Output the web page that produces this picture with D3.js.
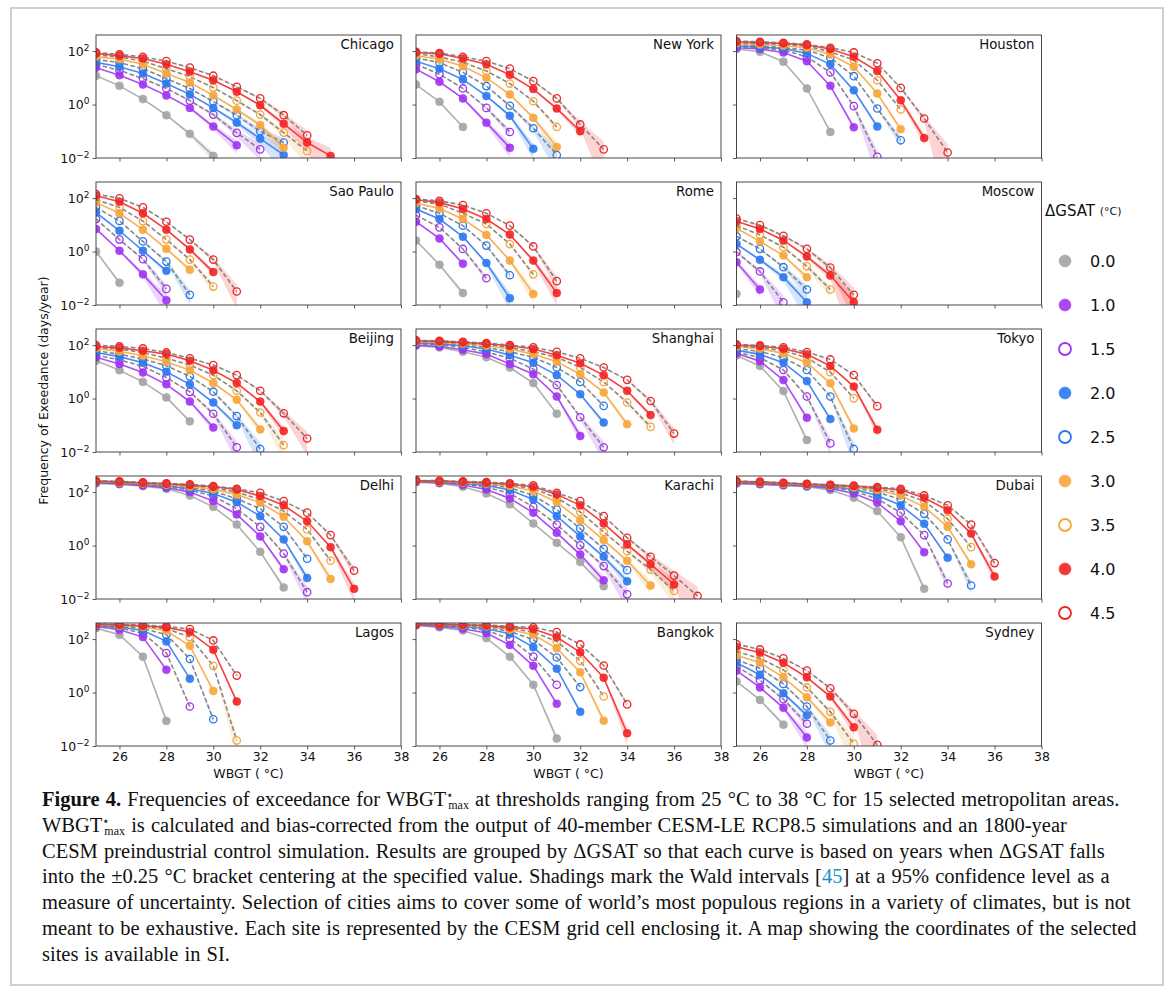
<!DOCTYPE html>
<html>
<head>
<meta charset="utf-8">
<script src="https://cdn.jsdelivr.net/npm/d3@7"></script>
<style>
  body { margin: 0; background: #fff; }
  svg text { font-family: "DejaVu Sans", sans-serif; fill: #111; }
  svg text.caption { font-family: "Liberation Serif", "Times New Roman", serif; }
</style>
</head>
<body>
<div id="chart"></div>
<script>
// thresholds (deg C) on the x axis, values are days/year starting at 25 deg C
const thresholds = [25, 26, 27, 28, 29, 30, 31, 32, 33, 34, 35, 36, 37, 38];
const xTicks = [26, 28, 30, 32, 34, 36, 38];
const yTicks = [0.01, 1, 100];
const deltas = ['0.0', '1.0', '1.5', '2.0', '2.5', '3.0', '3.5', '4.0', '4.5'];
const colors = ['#a3a3a3', '#a033f2', '#a033f2', '#2a78f0', '#2a78f0', '#f7a53a', '#f7a53a', '#f42222', '#f42222'];
const hollow = [false, false, true, false, true, false, true, false, true];
// years of simulation behind each group (control run for 0.0)
const nYears = [1800, 480, 480, 480, 480, 440, 400, 320, 200];
const cities = ['Chicago', 'New York', 'Houston', 'Sao Paulo', 'Rome', 'Moscow', 'Beijing', 'Shanghai', 'Tokyo',
                'Delhi', 'Karachi', 'Dubai', 'Lagos', 'Bangkok', 'Sydney'];

const chicago = [
  [12, 5, 1.6, 0.4, 0.08, 0.012],
  [24, 12.6, 5.6, 2.2, 0.75, 0.15, 0.03],
  [32, 19, 9.4, 4, 1.4, 0.42, 0.087, 0.021],
  [38, 26, 14.5, 6.1, 2.4, 0.75, 0.21, 0.053, 0.013],
  [49, 37, 22, 9.4, 4, 1.3, 0.4, 0.1, 0.038],
  [61, 50, 32, 14.5, 6.7, 2.2, 0.65, 0.17, 0.024],
  [71, 61, 42, 22, 11, 4.3, 1.4, 0.42, 0.089, 0.018],
  [82, 67, 53, 32, 17, 8.1, 3, 0.94, 0.19, 0.038, 0.012],
  [89, 75, 61, 42, 24, 12, 4.6, 1.7, 0.4, 0.07]
];
const newYork = [
  [5.6, 1.26, 0.145],
  [21, 7.1, 1.7, 0.21, 0.024],
  [32, 13.7, 4, 0.75, 0.094],
  [42, 22, 8.7, 2.1, 0.38, 0.022],
  [56, 37, 16, 4.9, 0.9, 0.13, 0.013],
  [67, 50, 27, 10, 2.4, 0.32, 0.026],
  [79, 61, 38, 18, 6.1, 1.33, 0.145],
  [89, 79, 53, 32, 13, 3.8, 0.71, 0.1],
  [94, 84, 61, 42, 22, 7.5, 1.7, 0.18, 0.021]
];
const houston = [
  [119, 94, 40, 4, 0.094],
  [133, 119, 89, 42, 5, 0.14],
  [145, 133, 109, 61, 16, 0.87, 0.011],
  [158, 141, 126, 82, 32, 3.4, 0.15],
  [178, 158, 133, 109, 56, 11.5, 0.71, 0.046],
  [195, 178, 158, 133, 75, 26, 2.6, 0.12],
  [211, 195, 178, 154, 94, 46, 8.1, 0.65],
  [224, 211, 195, 168, 119, 61, 18, 1.45, 0.056],
  [237, 224, 205, 178, 133, 89, 35, 4.2, 0.3, 0.016]
];
const saoPaulo = [
  [1.0, 0.068],
  [7, 1.07, 0.14, 0.015],
  [16.5, 2.8, 0.52, 0.04],
  [29, 6, 1.07, 0.19],
  [45, 14, 2.4, 0.42, 0.024],
  [69, 27, 6.6, 1.26, 0.21],
  [87, 45, 13.8, 2.8, 0.5, 0.049],
  [123, 73, 27, 6.6, 1.2, 0.17],
  [141, 98, 45, 13, 2.8, 0.5, 0.032]
];
const rome = [
  [2.6, 0.32, 0.028],
  [13, 3.1, 0.35],
  [23, 8, 1.25, 0.1],
  [39, 16.5, 3.6, 0.37, 0.018],
  [52, 27, 9.3, 1.67, 0.13],
  [65, 41, 16.5, 4.2, 0.46, 0.026],
  [77, 60, 27, 10.7, 1.9, 0.14],
  [87, 69, 39, 16.5, 4.3, 0.46, 0.028],
  [92, 79, 55, 27, 9.3, 1.55, 0.078]
];
const moscow = [
  [0.026],
  [0.4, 0.038],
  [0.95, 0.18, 0.0126],
  [1.9, 0.49, 0.11, 0.0126],
  [3.7, 1.26, 0.26, 0.038],
  [7.4, 2.4, 0.71, 0.11],
  [9.3, 4.2, 1.45, 0.28, 0.038],
  [13.5, 7, 2.6, 0.65, 0.126, 0.0126],
  [17, 9.7, 3.9, 1.26, 0.25, 0.024]
];
const beijing = [
  [26, 11.5, 4.2, 1.1, 0.14],
  [35, 19.5, 9.4, 3.4, 0.77, 0.082],
  [42, 28, 16, 6.1, 1.78, 0.27, 0.015],
  [53, 37, 22, 10, 3.4, 0.71, 0.1],
  [61, 46, 30, 17, 6.7, 1.8, 0.22, 0.013],
  [75, 58, 40, 24, 11.5, 3.8, 0.9, 0.07],
  [82, 71, 53, 32, 18, 7.5, 1.95, 0.3, 0.018],
  [89, 79, 61, 46, 26, 11.5, 3.8, 0.77, 0.061],
  [100, 89, 75, 53, 32, 18, 7.5, 1.95, 0.28, 0.032]
];
const shanghai = [
  [94, 82, 56, 35, 14.5, 3.8, 0.27],
  [100, 89, 67, 46, 19.5, 8.1, 1.19, 0.04],
  [112, 100, 82, 56, 32, 12.6, 3.2, 0.2, 0.015],
  [119, 109, 94, 71, 42, 22, 7.5, 1.45, 0.126],
  [126, 119, 103, 82, 56, 35, 14.5, 4.2, 0.53],
  [133, 126, 112, 94, 71, 46, 24, 8.1, 1.7, 0.11],
  [141, 133, 119, 106, 82, 56, 35, 14.5, 4.2, 0.71, 0.087],
  [145, 138, 126, 112, 94, 71, 42, 21, 7.5, 1.95, 0.24],
  [150, 145, 133, 119, 100, 82, 56, 32, 14.5, 5, 0.81, 0.049]
];
const tokyo = [
  [41, 16.5, 1.9, 0.028],
  [49, 25, 4.9, 0.19],
  [55, 34, 11.7, 1.19, 0.021],
  [65, 45, 22, 4.5, 0.17],
  [73, 58, 34, 11.7, 1.19, 0.013],
  [87, 73, 49, 22, 3.7, 0.076],
  [92, 82, 61, 34, 9.7, 1.02],
  [100, 92, 73, 45, 16.5, 2.8, 0.068],
  [106, 97, 82, 55, 29, 7.6, 0.52]
];
const delhi = [
  [212, 195, 167, 133, 75, 28, 6.1, 0.58, 0.027],
  [224, 205, 178, 145, 100, 46, 14.5, 2.2, 0.13],
  [237, 212, 188, 158, 119, 71, 24, 5, 0.5, 0.018],
  [237, 218, 200, 168, 133, 89, 42, 12.6, 1.7, 0.061],
  [245, 224, 205, 178, 145, 109, 56, 24, 5, 0.32],
  [251, 230, 211, 188, 158, 126, 82, 40, 12, 1.45, 0.056],
  [257, 237, 218, 200, 178, 145, 100, 53, 19.5, 4, 0.27],
  [257, 245, 224, 205, 183, 158, 126, 71, 32, 8.1, 0.87, 0.024],
  [266, 251, 230, 211, 195, 168, 133, 94, 46, 17, 2.45, 0.115]
];
const karachi = [
  [237, 212, 158, 89, 35, 6.7, 1.26, 0.24, 0.03],
  [245, 224, 183, 126, 58, 17, 3, 0.46, 0.05],
  [251, 230, 200, 154, 89, 28, 6.1, 1.02, 0.17, 0.015],
  [251, 237, 211, 178, 119, 53, 12.6, 2.2, 0.38, 0.046],
  [257, 245, 224, 195, 145, 75, 22, 4.3, 0.75, 0.12],
  [257, 245, 230, 205, 168, 109, 42, 8.9, 1.6, 0.27, 0.032],
  [266, 251, 237, 218, 188, 133, 61, 18, 3.2, 0.61, 0.126, 0.02],
  [266, 257, 245, 224, 200, 158, 82, 32, 6.7, 1.1, 0.2, 0.035],
  [275, 266, 251, 237, 211, 178, 94, 46, 12.6, 1.95, 0.38, 0.075, 0.013]
];
const dubai = [
  [212, 195, 178, 158, 119, 61, 19.5, 2.05, 0.024],
  [212, 200, 183, 168, 138, 89, 40, 8.1, 0.56],
  [224, 205, 188, 174, 150, 109, 56, 17, 2.45, 0.038],
  [224, 211, 195, 178, 158, 126, 75, 32, 6.5, 0.35],
  [230, 218, 200, 183, 168, 141, 100, 53, 15.4, 1.7, 0.032],
  [237, 224, 205, 188, 174, 150, 119, 75, 28, 5, 0.2],
  [245, 230, 211, 195, 178, 158, 133, 94, 46, 10, 0.87],
  [251, 237, 218, 200, 183, 168, 145, 119, 61, 21, 2.8, 0.07],
  [257, 245, 224, 205, 188, 174, 154, 133, 75, 32, 6.1, 0.22]
];
const lagos = [
  [257, 145, 22, 0.087],
  [300, 224, 119, 7.1],
  [316, 257, 168, 30, 0.3],
  [324, 282, 211, 82, 3.3],
  [335, 300, 251, 145, 18, 0.1],
  [345, 316, 282, 205, 56, 1.15],
  [352, 335, 300, 245, 119, 10, 0.016],
  [358, 345, 316, 275, 183, 40, 0.46],
  [362, 352, 335, 300, 237, 89, 4.3]
];
const bangkok = [
  [324, 275, 211, 109, 22, 1.95, 0.019],
  [335, 300, 245, 168, 60, 10, 0.38],
  [345, 316, 275, 211, 103, 22, 1.95],
  [350, 324, 300, 245, 158, 50, 7.8, 0.19],
  [355, 340, 316, 275, 195, 94, 20.5, 1.6],
  [358, 348, 330, 300, 224, 145, 45, 5.8, 0.089],
  [360, 352, 335, 310, 251, 183, 82, 15.4, 0.71],
  [362, 356, 345, 324, 275, 237, 119, 32, 3.6, 0.03],
  [364, 360, 352, 340, 300, 275, 183, 63, 10.3, 0.36]
];
const sydney = [
  [2.6, 0.53, 0.063],
  [6.6, 1.55, 0.27, 0.021],
  [9.3, 2.9, 0.56, 0.068],
  [13, 4.6, 0.95, 0.14],
  [17, 8, 2.1, 0.3, 0.016],
  [25, 13, 3.7, 0.67, 0.076],
  [34, 19, 7, 1.55, 0.19, 0.012],
  [52, 31, 13, 3.7, 0.71, 0.05],
  [65, 41, 19, 6.6, 1.45, 0.16, 0.011]
];
const cityData = [chicago, newYork, houston, saoPaulo, rome, moscow, beijing, shanghai, tokyo,
                  delhi, karachi, dubai, lagos, bangkok, sydney];

const captionLines = [
  [['b', 'Figure 4.'], ['', ' Frequencies of exceedance for WBGT'], ['sup', '⋆'], ['sub', 'max'], ['', ' at thresholds ranging from 25 °C to 38 °C for 15 selected metropolitan areas.']],
  [['', 'WBGT'], ['sup', '⋆'], ['sub', 'max'], ['', ' is calculated and bias-corrected from the output of 40-member CESM-LE RCP8.5 simulations and an 1800-year']],
  [['', 'CESM preindustrial control simulation. Results are grouped by ΔGSAT so that each curve is based on years when ΔGSAT falls']],
  [['', 'into the ±0.25 °C bracket centering at the specified value. Shadings mark the Wald intervals ['], ['link', '45'], ['', '] at a 95% confidence level as a']],
  [['', 'measure of uncertainty. Selection of cities aims to cover some of world’s most populous regions in a variety of climates, but is not']],
  [['', 'meant to be exhaustive. Each site is represented by the CESM grid cell enclosing it. A map showing the coordinates of the selected']],
  [['', 'sites is available in SI.']]
];

var W = 1173, H = 989;
var panel = {w: 305, h: 123};
var colX = [96, 416, 736.5];
var rowY = [35, 182, 329, 476, 623];

var svg = d3.select('#chart').append('svg')
  .attr('width', W)
  .attr('height', H);

// outer frame
svg.append('rect')
  .attr('x', 11).attr('y', 8)
  .attr('width', 1152).attr('height', 977)
  .attr('fill', 'none')
  .attr('stroke', '#d0d0d0')
  .attr('stroke-width', 2);

var x = d3.scaleLinear().domain([25, 38]).range([0, panel.w]);
var y = d3.scaleLog().domain([0.01, 400]).range([panel.h, 0]);

// Wald interval of a daily exceedance rate, expressed in days/year
function wald(v, n) {
  var p = v / 365, m = n * 365;
  var half = 1.96 * Math.sqrt(p * (1 - p) / m) * 365;
  return [Math.max(v - half, 1e-4), v + half];
}

function supTicks(g) {
  g.selectAll('.tick text').each(function(d) {
    var t = d3.select(this);
    t.text('10');
    t.append('tspan')
      .attr('dy', '-0.55em')
      .attr('font-size', '0.72em')
      .text(String(Math.round(Math.log10(d))).replace('-', '−'));
  });
}

cities.forEach(function(city, ci) {
  var col = ci % 3, row = Math.floor(ci / 3);
  var g = svg.append('g')
    .attr('transform', 'translate(' + colX[col] + ',' + rowY[row] + ')');

  g.append('clipPath').attr('id', 'clip' + ci)
    .append('rect').attr('width', panel.w).attr('height', panel.h);

  var plot = g.append('g').attr('clip-path', 'url(#clip' + ci + ')');
  var series = cityData[ci].map(function(vals, si) {
    return vals.map(function(v, i) { return {t: thresholds[i], v: v, band: wald(v, nYears[si])}; });
  });

  // shadings
  var area = d3.area()
    .x(function(d) { return x(d.t); })
    .y0(function(d) { return y(d.band[0]); })
    .y1(function(d) { return y(d.band[1]); });
  series.forEach(function(pts, si) {
    plot.append('path')
      .attr('d', area(pts))
      .attr('fill', colors[si])
      .attr('fill-opacity', 0.2);
  });

  var line = d3.line()
    .x(function(d) { return x(d.t); })
    .y(function(d) { return y(d.v); });

  series.forEach(function(pts, si) {
    plot.append('path')
      .attr('d', line(pts))
      .attr('fill', 'none')
      .attr('stroke', hollow[si] ? '#7a7a7a' : colors[si])
      .attr('stroke-width', 1.6)
      .attr('stroke-dasharray', hollow[si] ? '4.5,2.5' : null)
      .attr('stroke-opacity', hollow[si] ? 0.9 : 0.85);

    plot.selectAll('.m' + si)
      .data(pts)
    .enter().append('circle')
      .attr('cx', function(d) { return x(d.t); })
      .attr('cy', function(d) { return y(d.v); })
      .attr('r', hollow[si] ? 3.7 : 4)
      .attr('fill', hollow[si] ? 'none' : colors[si])
      .attr('fill-opacity', 0.9)
      .attr('stroke', colors[si])
      .attr('stroke-width', hollow[si] ? 1.3 : 0.5);
  });

  // axes
  var xAxis = d3.axisBottom(x).tickValues(xTicks).tickSize(3.5).tickPadding(3);
  if (row < 4) xAxis.tickFormat('');
  var gx = g.append('g')
    .attr('transform', 'translate(0,' + panel.h + ')')
    .call(xAxis);

  var yAxis = d3.axisLeft(y).tickValues(yTicks).tickSize(3.5).tickPadding(3);
  if (col > 0) yAxis.tickFormat('');
  var gy = g.append('g').call(yAxis);
  if (col === 0) gy.call(supTicks);

  [gx, gy].forEach(function(a) {
    a.select('.domain').remove();
    a.selectAll('.tick line').attr('stroke', '#333').attr('stroke-width', 0.8);
    a.selectAll('.tick text').attr('font-size', 12.5).attr('fill', '#111')
      .attr('font-family', '"DejaVu Sans", sans-serif');
  });

  g.append('rect')
    .attr('width', panel.w).attr('height', panel.h)
    .attr('fill', 'none')
    .attr('stroke', '#333')
    .attr('stroke-width', 0.9);

  g.append('text')
    .attr('x', panel.w - 7)
    .attr('y', 14)
    .attr('text-anchor', 'end')
    .attr('font-size', 13.3)
    .text(city);

  if (row === 4) {
    g.append('text')
      .attr('x', panel.w / 2)
      .attr('y', panel.h + 32)
      .attr('text-anchor', 'middle')
      .attr('font-size', 12.5)
      .text('WBGT ( °C)');
  }
});

// y axis title
svg.append('text')
  .attr('transform', 'translate(48,' + (rowY[0] + (rowY[4] + panel.h - rowY[0]) / 2) + ') rotate(-90)')
  .attr('text-anchor', 'middle')
  .attr('font-size', 12.5)
  .text('Frequency of Exeedance (days/year)');

// legend
var leg = svg.append('g').attr('transform', 'translate(1045,0)');
var lt = leg.append('text').attr('x', 0).attr('y', 216).attr('font-size', 15);
lt.append('tspan').text('ΔGSAT ');
lt.append('tspan').attr('font-size', 11).attr('dy', -1).text('(°C)');

deltas.forEach(function(d, i) {
  var yy = 261 + i * 44;
  leg.append('circle')
    .attr('cx', 20).attr('cy', yy)
    .attr('r', 6)
    .attr('fill', hollow[i] ? 'none' : colors[i])
    .attr('fill-opacity', 0.9)
    .attr('stroke', colors[i])
    .attr('stroke-width', hollow[i] ? 1.8 : 0.5);
  leg.append('text')
    .attr('x', 45).attr('y', yy + 6)
    .attr('font-size', 16)
    .text(d);
});

// caption
captionLines.forEach(function(parts, li) {
  var t = svg.append('text')
    .attr('class', 'caption')
    .attr('x', 42)
    .attr('y', 806 + li * 25.8)
    .attr('font-size', 20.5)
    .attr('word-spacing', 1);
  parts.forEach(function(p) {
    var s = t.append('tspan').text(p[1]);
    if (p[0] === 'b') s.attr('font-weight', 'bold');
    if (p[0] === 'link') s.attr('fill', '#1a8fc7');
    if (p[0] === 'sup') s.attr('baseline-shift', 7).attr('font-size', 12);
    if (p[0] === 'sub') s.attr('baseline-shift', -2.5).attr('font-size', 12).attr('dx', -6);
  });
});
</script>
</body>
</html>
